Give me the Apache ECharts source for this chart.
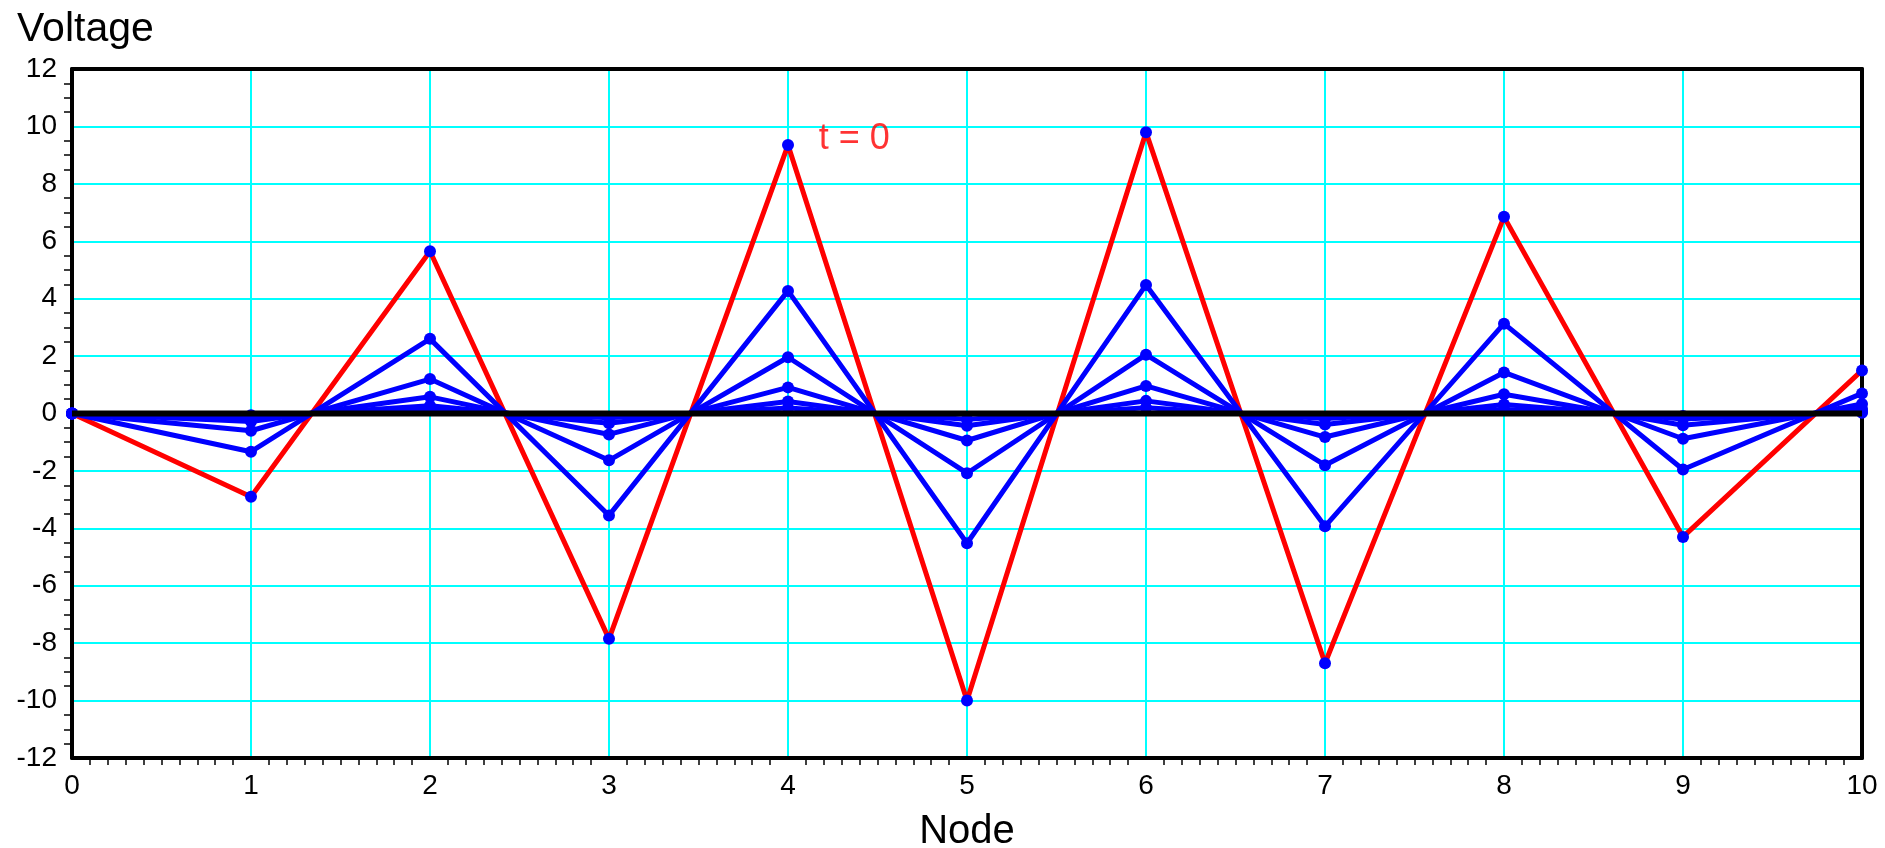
<!DOCTYPE html>
<html>
<head>
<meta charset="utf-8">
<script src="https://cdn.jsdelivr.net/npm/echarts@6/dist/echarts.min.js"></script>
<style>
html,body{margin:0;padding:0;background:#fff;}
#chart{width:1885px;height:848px;}
</style>
</head>
<body>
<div id="chart"></div>
<script>
// ---- data ----
const nodes = [0, 1, 2, 3, 4, 5, 6, 7, 8, 9, 10];
const vT0 = [0, -2.9, 5.65, -7.85, 9.35, -10.0, 9.8, -8.7, 6.85, -4.3, 1.5];
const vT1 = [0, -1.33, 2.6, -3.55, 4.27, -4.52, 4.48, -3.93, 3.13, -1.95, 0.7];
const vT2 = [0, -0.6, 1.2, -1.63, 1.96, -2.08, 2.05, -1.8, 1.43, -0.88, 0.33];
const vT3 = [0, -0.28, 0.58, -0.73, 0.91, -0.94, 0.96, -0.82, 0.67, -0.41, 0.16];
const vT4 = [0, -0.13, 0.27, -0.34, 0.42, -0.43, 0.44, -0.38, 0.31, -0.19, 0.07];
const vT5 = [0, -0.06, 0.12, -0.15, 0.19, -0.2, 0.2, -0.17, 0.14, -0.09, 0.03];
const vFinal = [0, 0, 0, 0, 0, 0, 0, 0, 0, 0, 0];
const annotText = 't = 0';
const annotPos = [4.37, 9.55];
const xTitle = 'Node';
const yTitle = 'Voltage';

const pairs = v => nodes.map((n, i) => [n, v[i]]);
const FONT = 'Liberation Sans, Arial, sans-serif';

function lineSeries(v, color, withSymbol, z, width) {
  return {
    type: 'line',
    data: pairs(v),
    z: z,
    symbol: withSymbol ? 'circle' : 'none',
    symbolSize: 12,
    showSymbol: withSymbol,
    itemStyle: { color: '#0000ff', borderWidth: 0 },
    lineStyle: { color: color, width: width },
    emphasis: { disabled: true },
    animation: false
  };
}

const frameAxis = {
  show: true,
  axisLine: { show: true, onZero: false, lineStyle: { color: '#000', width: 4 } },
  axisTick: { show: false },
  minorTick: { show: false },
  axisLabel: { show: false },
  splitLine: { show: false }
};

const chart = echarts.init(document.getElementById('chart'), null, { renderer: 'canvas' });
chart.setOption({
  animation: false,
  backgroundColor: '#ffffff',
  textStyle: { fontFamily: FONT },
  title: {
    text: yTitle,
    left: 12,
    top: 4,
    textStyle: { fontFamily: FONT, fontSize: 41, fontWeight: 'normal', color: '#000' }
  },
  grid: {
    left: 72, right: 23, top: 69, bottom: 90,
    containLabel: false,
    outerBoundsMode: 'none',
    show: false
  },
  xAxis: [{
    type: 'value',
    min: 0, max: 10, interval: 1,
    name: xTitle,
    nameLocation: 'middle',
    nameGap: 54,
    nameTextStyle: { fontFamily: FONT, fontSize: 40, color: '#000' },
    axisLine: { show: true, onZero: false, lineStyle: { color: '#000', width: 4 } },
    axisTick: { show: false },
    minorTick: { show: true, splitNumber: 10, length: 7, lineStyle: { color: '#000', width: 1.5 } },
    axisLabel: { fontFamily: FONT, fontSize: 28, color: '#000', margin: 14 },
    splitLine: { show: true, lineStyle: { color: '#00ffff', width: 2 } },
    minorSplitLine: { show: false }
  }, Object.assign({ type: 'value', min: 0, max: 10, position: 'top' }, frameAxis)],
  yAxis: [{
    type: 'value',
    min: -12, max: 12, interval: 2,
    axisLine: { show: true, onZero: false, lineStyle: { color: '#000', width: 4 } },
    axisTick: { show: false },
    minorTick: { show: true, splitNumber: 4, length: 8, lineStyle: { color: '#000', width: 1.5 } },
    axisLabel: { fontFamily: FONT, fontSize: 28, color: '#000', margin: 15 },
    splitLine: { show: true, lineStyle: { color: '#00ffff', width: 2 } }
  }, Object.assign({ type: 'value', min: -12, max: 12, position: 'right' }, frameAxis)],
  series: [
    lineSeries(vT0, '#ff0000', true, 2, 5),
    lineSeries(vT1, '#0000ff', true, 3, 5),
    lineSeries(vT2, '#0000ff', true, 3, 5),
    lineSeries(vT3, '#0000ff', true, 3, 5),
    lineSeries(vT4, '#0000ff', true, 3, 5),
    lineSeries(vT5, '#0000ff', true, 3, 5),
    lineSeries(vFinal, '#000000', false, 4, 6),
    {
      type: 'scatter',
      data: [annotPos],
      symbolSize: 0,
      z: 5,
      silent: true,
      label: {
        show: true,
        position: 'inside',
        formatter: annotText,
        fontFamily: FONT,
        fontSize: 36,
        color: '#ff0000'
      }
    }
  ]
});
</script>
</body>
</html>
